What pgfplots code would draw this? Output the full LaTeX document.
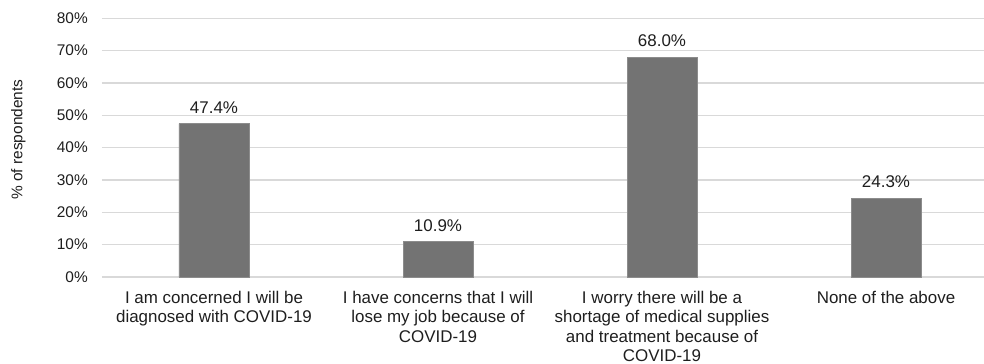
\documentclass[border=0pt]{standalone}
\usepackage{fontspec}
\setmainfont{Liberation Sans}
\usepackage{pgfplots}
\pgfplotsset{compat=1.18}

\definecolor{barfill}{RGB}{115,115,115}
\definecolor{baredge}{RGB}{140,140,140}
\definecolor{gridgray}{RGB}{217,217,217}
\definecolor{txt}{RGB}{30,30,30}

\begin{document}
\begin{tikzpicture}
\useasboundingbox (-102bp,-87bp) rectangle (882bp,277bp);
\begin{axis}[
  at={(0,0)}, anchor=south west,
  scale only axis,
  width=882bp, height=258.7bp,
  xmin=-0.5, xmax=3.4375,
  ymin=0, ymax=80,
  ytick={0,10,...,80},
  xtick={0,1,2,3},
  xticklabels={
    {I am concerned I will be\\diagnosed with COVID-19},
    {I have concerns that I will\\lose my job because of\\COVID-19},
    {I worry there will be a\\shortage of medical supplies\\and treatment because of\\COVID-19},
    {None of the above}},
  yticklabel={\pgfmathprintnumber{\tick}\%},
  /pgf/number format/assume math mode=true,
  axis line style={draw=none},
  major tick length=0pt,
  ymajorgrids,
  grid style={gridgray, line width=1.1bp},
  xticklabel style={align=center, inner sep=0pt, yshift=-13.8bp,
    font=\fontsize{17}{19.5}\selectfont, text=txt},
  yticklabel style={inner sep=0pt, xshift=-14bp,
    font=\fontsize{15.5}{18}\selectfont, text=txt},
  ylabel={\% of respondents},
  every axis y label/.style={at={([xshift=-83.5bp]axis description cs:0,0.531)},
    rotate=90, anchor=center, font=\fontsize{15.5}{18}\selectfont, text=txt},
  clip=false,
]
\addplot[ybar, bar width=70bp, fill=barfill, draw=baredge, line width=0.6bp,
  nodes near coords={\pgfmathprintnumber[fixed,fixed zerofill,precision=1]{\pgfplotspointmeta}\%},
  nodes near coords style={anchor=south, inner sep=0pt, yshift=10bp,
    font=\fontsize{17}{20}\selectfont, text=txt},
  /pgf/number format/assume math mode=true]
  coordinates {(0,47.4) (1,10.9) (2,68.0) (3,24.3)};
\end{axis}
\end{tikzpicture}
\end{document}
